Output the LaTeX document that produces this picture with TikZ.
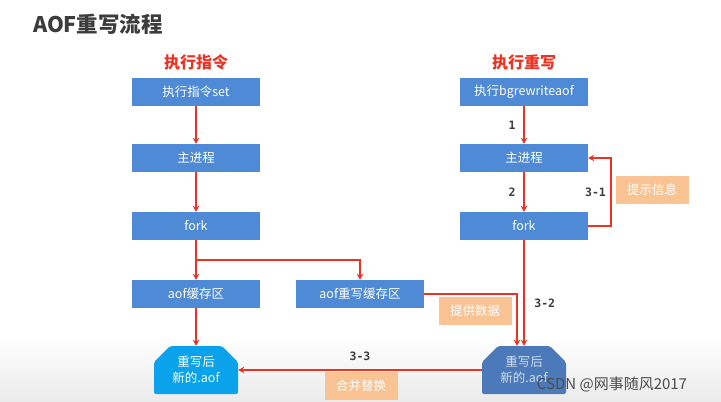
\documentclass[tikz,border=0pt]{standalone}
\usepackage{fontspec}
\newfontfamily\cjk{Noto Sans CJK SC}
\newfontfamily\numfont{DejaVu Sans Mono}
\usetikzlibrary{arrows.meta,positioning,shapes.misc}
\definecolor{boxblue}{HTML}{4E8AD6}
\definecolor{aofblue}{HTML}{0AA2EA}
\definecolor{dimblue}{HTML}{4B79B9}
\definecolor{peach}{HTML}{F9C393}
\definecolor{flowred}{HTML}{EA3323}
\definecolor{titlegray}{HTML}{3C3C3C}

\begin{document}
\begin{tikzpicture}[x=1pt,y=-1pt,>={Stealth[length=6pt,width=6.5pt]},
 box/.style={fill=boxblue,text=white,minimum width=128pt,minimum height=28pt,inner sep=0pt,font=\cjk\fontsize{12.5}{14}\selectfont},
 filebox/.style={chamfered rectangle,chamfered rectangle corners={north west,north east},chamfered rectangle xsep=8pt,chamfered rectangle ysep=8pt,rounded corners=2pt,minimum width=84pt,minimum height=48pt,inner sep=0pt,align=center,font=\cjk\fontsize{12.5}{16}\selectfont},
 notebox/.style={fill=peach,text=white,minimum width=73pt,minimum height=28pt,inner sep=0pt,font=\cjk\fontsize{12.5}{14}\selectfont},
 head/.style={text=flowred,font=\cjk\bfseries\fontsize{16}{18}\selectfont},
 num/.style={text=titlegray,font=\numfont\bfseries\fontsize{11.5}{13}\selectfont},
 flow/.style={->,draw=flowred,line width=2pt}]
\useasboundingbox (0,0) rectangle (721,402);
\shade[top color=white,bottom color=black!8] (0,335) rectangle (721,402);
\node[text=titlegray,font=\cjk\bfseries\fontsize{21.5}{24}\selectfont] (title) at (98,24) {AOF重写流程};
\node[head] (hleft) at (196,62) {执行指令};
\node[head] (hright) at (524,62) {执行重写};
\node[box] (set) at (196,92) {执行指令set};
\node[box] (mainl) at (196,158) {主进程};
\node[box] (forkl) at (196,226) {fork};
\node[box] (aofbuf) at (196,294) {aof缓存区};
\node[box] (rwbuf) at (360,294) {aof重写缓存区};
\node[box] (bgrw) at (524,92) {执行bgrewriteaof};
\node[box] (mainr) at (524,158) {主进程};
\node[box] (forkr) at (524,226) {fork};
\node[filebox,fill=aofblue,text=white] (newl) at (196,370) {重写后\\新的.aof};
\node[filebox,fill=dimblue,text=white!75!dimblue] (newr) at (524,370) {重写后\\新的.aof};
\node[notebox] (tip) at (652,190) {提示信息};
\node[notebox] (data) at (475,311) {提供数据};
\node[notebox] (merge) at (361,386) {合并替换};
\coordinate (split) at (196,260);
\draw[flow] (set)--(mainl);
\draw[flow] (mainl)--(forkl);
\draw[flow] (forkl)--(aofbuf);
\draw[flow] (split) -| (rwbuf.north);
\draw[flow] (aofbuf)--(newl);
\draw[flow] (rwbuf.east) -| ([xshift=-7pt]newr.north);
\draw[flow] (bgrw)--node[num,left=4pt]{1}(mainr);
\draw[flow] (mainr)--node[num,left=4pt]{2}(forkr);
\draw[flow] (forkr.east) -- ++(23,0) |- node[num,pos=0.25,left=1pt]{3-1}(mainr.east);
\draw[flow] (forkr)--node[num,pos=0.6,right=6pt]{3-2}(newr.north);
\draw[flow] (newr.west)--node[num,above=5pt]{3-3}(newl.east);
\node[text=black!70,font=\cjk\fontsize{15}{17}\selectfont] (mark) at (612,384) {CSDN @网事随风2017};
\end{tikzpicture}
\end{document}
